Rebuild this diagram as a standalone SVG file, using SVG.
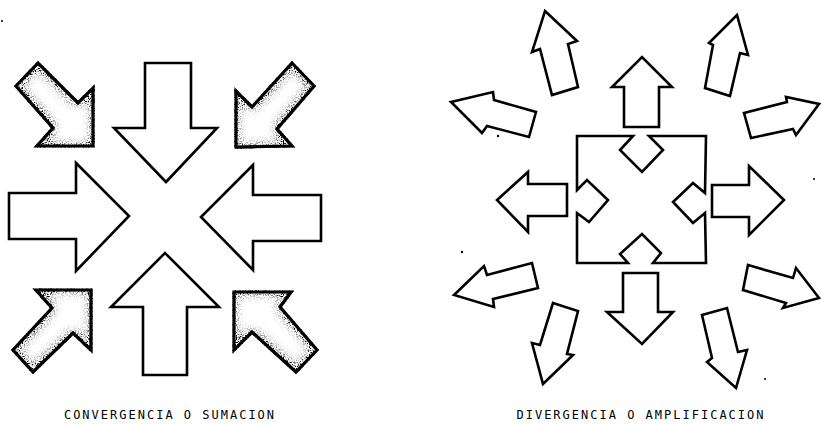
<svg xmlns="http://www.w3.org/2000/svg" width="821" height="424" viewBox="0 0 821 424">
<style>
.w{fill:#fff;stroke:#000;stroke-width:2.6;stroke-linejoin:miter}
.s{fill:#fff;stroke:#000;stroke-width:3.2;stroke-linejoin:miter;filter:url(#grain)}
.lbl{font-family:"DejaVu Sans Mono","Liberation Mono",monospace;font-size:12px;letter-spacing:2px;fill:#000;text-anchor:middle}
.dot{fill:#000}
</style>
<defs>
<filter id="grain" x="-10%" y="-10%" width="120%" height="120%">
<feTurbulence type="fractalNoise" baseFrequency="0.85" numOctaves="2" seed="4" result="noise"/>
<feColorMatrix in="noise" type="matrix" values="0 0 0 0 0  0 0 0 0 0  0 0 0 0 0  -4 0 0 0 2.3" result="speck"/>
<feMorphology in="SourceAlpha" operator="erode" radius="5" result="er"/>
<feGaussianBlur in="er" stdDeviation="4" result="erb"/>
<feComposite in="SourceAlpha" in2="erb" operator="out" result="band"/>
<feComposite in="speck" in2="band" operator="arithmetic" k1="1.4" k2="0" k3="0" k4="0" result="sp"/>
<feMerge><feMergeNode in="SourceGraphic"/><feMergeNode in="sp"/></feMerge>
</filter>
</defs>
<rect width="821" height="424" fill="#fff"/>

<g id="convergencia">
<polygon id="c-tl" class="s" points="16,86 38,63 78,103 93,88 93,146 37,146 53,128"/>
<polygon id="c-t" class="w" points="145,63 191,63 191,128 217,128 166,182 114,128 145,128"/>
<polygon id="c-tr" class="s" points="292,63 314,86 277,129 292,146 236,147 236,91 252,107"/>
<polygon id="c-l" class="w" points="9,193 76,193 76,163 129,216 76,271 76,239 9,239"/>
<polygon id="c-r" class="w" points="321,195 253,195 253,165 201,217 253,270 253,241 321,241"/>
<polygon id="c-b" class="w" points="143,375 143,307 111,307 165,253 219,307 187,307 187,375"/>
<polygon id="c-bl" class="s" points="13,350 52,308 36,290 91,290 91,350 73,333 33,372"/>
<polygon id="c-br" class="s" points="234,292 291,292 280,307 317,350 296,372 252,332 234,350"/>
</g>

<g id="divergencia">
<path id="d-square" class="w" d="M633,136 L620,150 L642,172 L663,150 L649,136 L706,136 L705,193 L693,183 L673,202 L693,223 L705,213 L706,263 L653,263 L661,253 L642,234 L620,254 L628,263 L577,263 L577,213 L589,222 L608,200 L587,180 L577,190 L577,136 Z"/>
<polygon id="d-up" class="w" points="624,127 624,87 612,87 642,57 672,87 659,87 659,127"/>
<polygon id="d-down" class="w" points="623,273 658,273 658,312 673,312 642,344 607,312 623,312"/>
<polygon id="d-left" class="w" points="567,184 528,184 528,172 497,200 528,232 528,216 567,216"/>
<polygon id="d-right" class="w" points="712,185 749,185 749,166 784,200 749,235 749,217 712,217"/>
<polygon id="d-ul" class="w" points="545,11 577,41 568,44 578,87 552,95 540,49 532,52"/>
<polygon id="d-ur" class="w" points="737,15 748,55 740,53 730,96 705,88 713,45 709,43"/>
<polygon id="d-lu" class="w" points="451,102 493,92 494,100 536,112 529,137 487,126 482,133"/>
<polygon id="d-ru" class="w" points="744,113 787,102 786,97 819,104 796,135 793,129 751,138"/>
<polygon id="d-ld" class="w" points="454,295 484,266 487,275 532,263 538,288 493,299 494,307"/>
<polygon id="d-rd" class="w" points="748,265 793,278 796,268 819,298 783,308 786,303 743,290"/>
<polygon id="d-bl" class="w" points="553,303 578,311 567,354 573,355 543,384 532,343 540,345"/>
<polygon id="d-br" class="w" points="702,315 727,308 738,352 747,350 736,388 707,362 712,358"/>
</g>

<g id="specks">
<circle class="dot" cx="2" cy="21" r="1"/>
<circle class="dot" cx="498" cy="136" r="1.2"/>
<circle class="dot" cx="462" cy="252" r="1.2"/>
<circle class="dot" cx="814" cy="179" r="1"/>
<circle class="dot" cx="765" cy="379" r="1"/>
</g>

<text class="lbl" x="170" y="419">CONVERGENCIA O SUMACION</text>
<text class="lbl" x="641" y="419">DIVERGENCIA O AMPLIFICACION</text>
</svg>
